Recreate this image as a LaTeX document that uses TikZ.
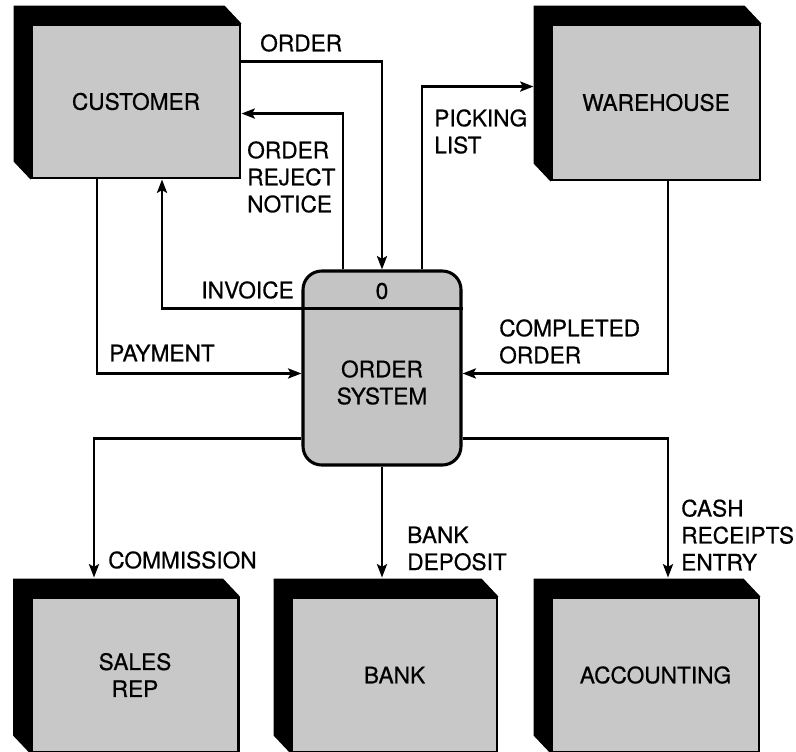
\documentclass[tikz,border=0pt]{standalone}
\usepackage{fontspec}
\setmainfont[FakeBold=0.6]{TeX Gyre Heros}
\usetikzlibrary{calc,arrows.meta}
\definecolor{facegray}{RGB}{200,200,200}
\definecolor{procgray}{RGB}{196,196,196}
\tikzset{
  face/.style={draw=black, line width=2.2pt, fill=facegray, minimum width=207*0.75pt, minimum height=154*0.75pt, inner sep=0pt, align=center},
  proc/.style={draw=black, line width=2.3pt, fill=procgray, rounded corners=14pt, minimum width=158*0.75pt, minimum height=194*0.75pt, inner sep=0pt},
  flow/.style={line width=2pt, -{Stealth[length=10pt,width=7.5pt,inset=2pt]}},
  lbl/.style={inner sep=0pt, align=left, anchor=west},
  txt/.style={inner sep=0pt, align=center},
  every node/.style={font=\fontsize{17}{20.25}\selectfont}
}
\newcommand{\boxshadow}[1]{%
  \fill[black] ($(#1.north west)+(-17,-18)$) -- ($(#1.north east)+(-17,-18)$) -- (#1.north east) -- (#1.south west) -- ($(#1.south west)+(-17,-18)$) -- cycle;}
\begin{document}
\begin{tikzpicture}[x=0.75pt, y=-0.75pt]
\useasboundingbox (0,0) rectangle (796,751);
\clip (0,0) rectangle (796,751);
\fill[white] (0,0) rectangle (796,751);
% external entities (outline used for shadow)
\node[face, minimum width=208*0.75pt, minimum height=153*0.75pt] (cust) at (136,101.5) {};
\node[face, minimum width=208*0.75pt, minimum height=155*0.75pt] (wh) at (656,102.5) {};
\node[face] (sales) at (135,675) {};
\node[face, minimum width=205*0.75pt] (bank) at (394.5,675) {};
\node[face] (acct) at (655.5,675) {};
\boxshadow{cust}
\boxshadow{wh}
\boxshadow{sales}
\boxshadow{bank}
\boxshadow{acct}
\node[face, minimum width=208*0.75pt, minimum height=153*0.75pt] (custf) at (136,101.5) {CUSTOMER};
\node[face, minimum width=208*0.75pt, minimum height=155*0.75pt] (whf) at (656,102.5) {WAREHOUSE};
\node[face] (salesf) at (135,675) {SALES\\REP};
\node[face, minimum width=205*0.75pt] (bankf) at (394.5,675) {BANK};
\node[face] (acctf) at (655.5,675) {ACCOUNTING};
% process
\node[proc] (p) at (382,368) {};
\draw[line width=2pt] ($(p.north west)+(0,39)$) -- ($(p.north east)+(0,39)$);
\node[txt] (pid) at (382,291) {0};
\node[txt] (pname) at (382,382.5) {ORDER\\SYSTEM};
% helper coordinates
\coordinate (bk) at ($(bank.north)+(0,-19)$);
% flows
\draw[flow] ($(cust.north east)+(0,38)$) -| (p.north);
\draw[flow] ($(p.north)+(-39,0)$) |- ($(cust.north east)+(0,90)$);
\draw[flow] ($(p.north west)+(0,39)$) -| ($(cust.south)+(26,0)$);
\draw[flow] ($(cust.south)+(-39,0)$) |- ($(p.north west)+(0,104)$);
\draw[flow] ($(p.north)+(40,0)$) |- ($(wh.north west)+(-17,63)$);
\draw[flow] ($(wh.south)+(12,0)$) |- ($(p.north east)+(0,104)$);
\draw[flow] ($(p.north west)+(0,169)$) -| ($(sales.north)+(-41,-19)$);
\draw[flow] (p.south) -- (p.south |- bk);
\draw[flow] ($(p.north east)+(0,169)$) -| ($(acct.north)+(12.5,-19)$);
% labels
\node[lbl] (l1) at (260,43) {ORDER};
\node[lbl] (l2) at (247,177) {ORDER\\REJECT\\NOTICE};
\node[inner sep=0pt, anchor=east] (l3) at (294,290) {INVOICE};
\node[lbl] (l4) at (109,353) {PAYMENT};
\node[lbl] (l5) at (434,131.5) {PICKING\\LIST};
\node[lbl] (l6) at (499,341.5) {COMPLETED\\ORDER};
\node[lbl] (l7) at (108,560) {COMMISSION};
\node[lbl] (l8) at (407,548.5) {BANK\\DEPOSIT};
\node[lbl] (l9) at (681,535) {CASH\\RECEIPTS\\ENTRY};
\end{tikzpicture}
\end{document}
